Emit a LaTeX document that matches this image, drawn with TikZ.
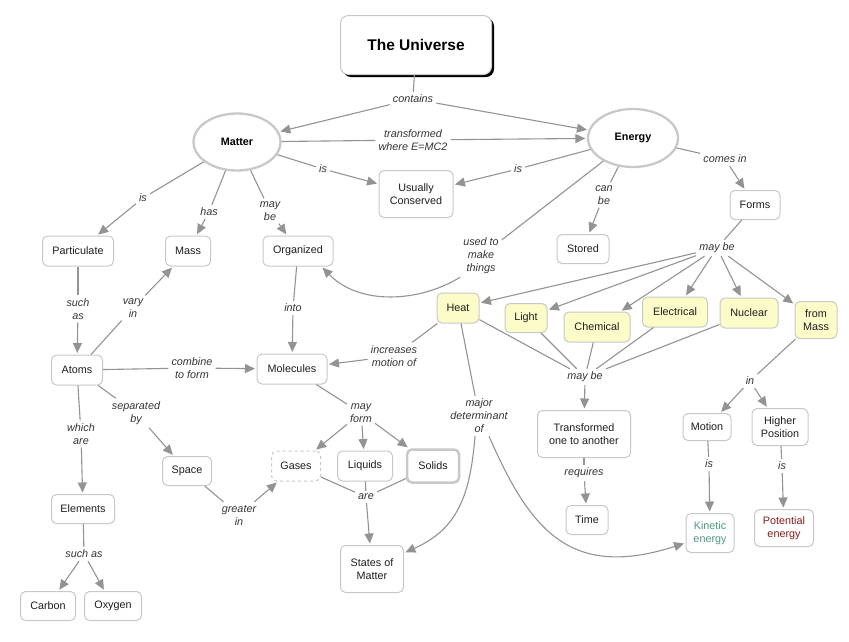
\documentclass[tikz,border=0pt]{standalone}
\usepackage{fontspec}
\setmainfont{Liberation Sans}
\usetikzlibrary{arrows.meta,shadows,shapes.geometric}
\definecolor{bord}{HTML}{C8C8C8}
\definecolor{lin}{HTML}{939393}
\definecolor{yel}{HTML}{FCFCC8}
\definecolor{nodetxt}{HTML}{1E1E1E}
\definecolor{lbltxt}{HTML}{333333}
\definecolor{kin}{HTML}{4E9A7A}
\definecolor{pot}{HTML}{8B1A1A}
\begin{document}
\begin{tikzpicture}[x=1pt,y=-1pt,
 cpt/.style={draw=bord, line width=1pt, rounded corners=5pt, fill=white, text=nodetxt,
   font=\fontsize{10.8}{13}\selectfont, align=center, inner sep=0pt, minimum height=30pt},
 hl/.style={cpt, fill=yel},
 oval/.style={ellipse, draw=bord, line width=2.3pt, fill=white, text=black,
   font=\fontsize{10.8}{13}\selectfont\bfseries, inner sep=0pt},
 lbl/.style={font=\fontsize{10.8}{13}\selectfont\itshape, text=lbltxt, align=center, inner sep=3pt},
 con/.style={draw=lin, line width=1.1pt},
 arr/.style={con, -{Triangle[length=10pt,width=9pt]}, shorten >=1.5pt},
]
\useasboundingbox (0,0) rectangle (849,641);
% concepts
\node[cpt, rounded corners=8pt, minimum width=151pt, minimum height=59pt,
  font=\fontsize{15.5}{18}\selectfont\bfseries, text=black,
  drop shadow={shadow xshift=2.5pt, shadow yshift=-2.5pt, fill=black, opacity=1}]
  (universe) at (416,45) {The Universe};
\node[oval, minimum width=87pt, minimum height=57pt] (matter) at (237,142) {Matter};
\node[oval, minimum width=90pt, minimum height=58pt] (energy) at (633,138) {Energy};
\node[cpt, minimum width=74pt, minimum height=47pt] (uc) at (416,194) {Usually\\Conserved};
\node[cpt, minimum width=71pt] (particulate) at (78,251) {Particulate};
\node[cpt, minimum width=45pt] (mass) at (188,251) {Mass};
\node[cpt, minimum width=70pt] (organized) at (298,251) {Organized};
\node[cpt, minimum width=51pt] (atoms) at (77,370) {Atoms};
\node[cpt, minimum width=70pt] (molecules) at (292,369) {Molecules};
\node[cpt, minimum width=49pt, minimum height=29pt] (space) at (187,471) {Space};
\node[cpt, minimum width=63pt, minimum height=29pt] (elements) at (83,509) {Elements};
\node[cpt, minimum width=55pt, minimum height=29pt] (carbon) at (48,606) {Carbon};
\node[cpt, minimum width=57pt, minimum height=29pt] (oxygen) at (113,606) {Oxygen};
\node[cpt, minimum width=49pt, dashed, dash pattern=on 3pt off 3pt] (gases) at (296,466) {Gases};
\node[cpt, minimum width=55pt] (liquids) at (365,466) {Liquids};
\node[cpt, minimum width=52pt, minimum height=33pt, line width=2.5pt] (solids) at (433,466) {Solids};
\node[cpt, minimum width=63pt, minimum height=47pt] (states) at (372,569) {States of\\Matter};
\node[hl, minimum width=42pt] (heat) at (458,308) {Heat};
\node[hl, minimum width=42pt, minimum height=29pt] (light) at (526,318) {Light};
\node[hl, minimum width=66pt] (chemical) at (597,327) {Chemical};
\node[hl, minimum width=65pt] (electrical) at (675,312) {Electrical};
\node[hl, minimum width=58pt] (nuclear) at (749,313) {Nuclear};
\node[hl, minimum width=42pt, minimum height=37pt] (frommass) at (816,320) {from\\Mass};
\node[cpt, minimum width=52pt, minimum height=29pt] (stored) at (583,249) {Stored};
\node[cpt, minimum width=50pt, minimum height=29pt] (forms) at (755,205) {Forms};
\node[cpt, minimum width=93pt, minimum height=47pt] (transformed) at (584,434) {Transformed\\one to another};
\node[cpt, minimum width=42pt, minimum height=29pt] (time) at (587,520) {Time};
\node[cpt, minimum width=48pt, minimum height=27pt] (motion) at (707,427) {Motion};
\node[cpt, minimum width=56pt, minimum height=37pt] (higher) at (780,427) {Higher\\Position};
\node[cpt, minimum width=48pt, minimum height=39pt, text=kin] (kinetic) at (710,533) {Kinetic\\energy};
\node[cpt, minimum width=59pt, minimum height=37pt, text=pot] (potential) at (784,528) {Potential\\energy};
% linking phrases
\node[lbl] (contains) at (413,99) {contains};
\node[lbl] (transf) at (413,140) {transformed\\where E=MC2};
\node[lbl] (is1) at (323,169) {is};
\node[lbl] (is2) at (518,169) {is};
\node[lbl] (is3) at (143,198) {is};
\node[lbl] (has) at (209,212) {has};
\node[lbl] (maybe1) at (270,211) {may\\be};
\node[lbl] (suchas1) at (78,309) {such\\as};
\node[lbl] (varyin) at (133,308) {vary\\in};
\node[lbl] (into) at (293,308) {into};
\node[lbl] (combine) at (192,368) {combine\\to form};
\node[lbl] (separated) at (136,413) {separated\\by};
\node[lbl] (whichare) at (81,434) {which\\are};
\node[lbl] (suchas2) at (84,554) {such as};
\node[lbl] (greater) at (239,515) {greater\\in};
\node[lbl] (mayform) at (361,413) {may\\form};
\node[lbl] (are) at (366,497) {are};
\node[lbl] (increases) at (394,356) {increases\\motion of};
\node[lbl] (major) at (479,416) {major\\determinant\\of};
\node[lbl] (usedto) at (481,256) {used to\\make\\things};
\node[lbl] (canbe) at (604,195) {can\\be};
\node[lbl] (comesin) at (725,159) {comes in};
\node[lbl] (maybe2) at (717,248) {may be};
\node[lbl] (maybe3) at (585,377) {may be};
\node[lbl] (requires) at (584,473) {requires};
\node[lbl] (in) at (750,381) {in};
\node[lbl] (is4) at (709,464) {is};
\node[lbl] (is5) at (782,466) {is};
% connectors
\draw[con] (universe) -- (contains);
\draw[arr] (contains) -- (matter);
\draw[arr] (contains) -- (energy);
\draw[con] (matter) -- (transf);
\draw[arr] (transf) -- (energy);
\draw[con] (matter) -- (is1);
\draw[arr] (is1) -- (uc);
\draw[con] (energy) -- (is2);
\draw[arr] (is2) -- (uc);
\draw[con] (matter) -- (is3);
\draw[arr] (is3) -- (particulate);
\draw[con] (matter) -- (has);
\draw[arr] (has) -- (mass);
\draw[con] (matter) -- (maybe1);
\draw[arr] (maybe1) -- (organized);
\draw[con] (particulate) -- (suchas1);
\draw[arr] (suchas1) -- (atoms);
\draw[con] (atoms) -- (varyin);
\draw[arr] (varyin) -- (mass);
\draw[con] (organized) -- (into);
\draw[arr] (into) -- (molecules);
\draw[con] (atoms) -- (combine);
\draw[arr] (combine) -- (molecules);
\draw[con] (atoms) -- (separated);
\draw[arr] (separated) -- (space);
\draw[con] (atoms) -- (whichare);
\draw[arr] (whichare) -- (elements);
\draw[con] (elements) -- (suchas2);
\draw[arr] (suchas2) -- (carbon);
\draw[arr] (suchas2) -- (oxygen);
\draw[con] (space) -- (greater);
\draw[arr] (greater) -- (gases);
\draw[con] (molecules) -- (mayform);
\draw[arr] (mayform) -- (gases);
\draw[arr] (mayform) -- (liquids);
\draw[arr] (mayform) -- (solids);
\draw[con] (gases) -- (are);
\draw[con] (liquids) -- (are);
\draw[con] (solids) -- (are);
\draw[arr] (are) -- (states);
\draw[con] (heat) -- (increases);
\draw[arr] (increases) -- (molecules);
\draw[con] (heat) -- (major);
\draw[arr] ([xshift=-4pt]major.south) .. controls (470,500) and (455,530) .. ([yshift=-8pt]states.north east);
\draw[arr] ([xshift=10pt]major.south) .. controls (530,530) and (570,580) .. ([yshift=-10pt]kinetic.west);
\draw[con] (energy) -- (usedto);
\draw[arr] (usedto.south west) .. controls (420,302) and (360,306) .. ([xshift=-12pt]organized.south east);
\draw[con] (energy) -- (canbe);
\draw[arr] (canbe) -- (stored);
\draw[con] (energy) -- (comesin);
\draw[arr] (comesin) -- (forms);
\draw[con] (forms) -- (maybe2);
\draw[arr] (maybe2) -- (heat);
\draw[arr] (maybe2) -- (light);
\draw[arr] (maybe2) -- (chemical);
\draw[arr] (maybe2) -- (electrical);
\draw[arr] (maybe2) -- (nuclear);
\draw[arr] (maybe2) -- (frommass);
\draw[con] (heat) -- (maybe3);
\draw[con] (light) -- (maybe3);
\draw[con] (chemical) -- (maybe3);
\draw[con] (electrical) -- (maybe3);
\draw[con] (nuclear) -- (maybe3);
\draw[arr] (maybe3) -- (transformed);
\draw[con] (transformed) -- (requires);
\draw[arr] (requires) -- (time);
\draw[con] (frommass) -- (in);
\draw[arr] (in) -- (motion);
\draw[arr] (in) -- (higher);
\draw[con] (motion) -- (is4);
\draw[arr] (is4) -- (kinetic);
\draw[con] (higher) -- (is5);
\draw[arr] (is5) -- (potential);
\end{tikzpicture}
\end{document}
